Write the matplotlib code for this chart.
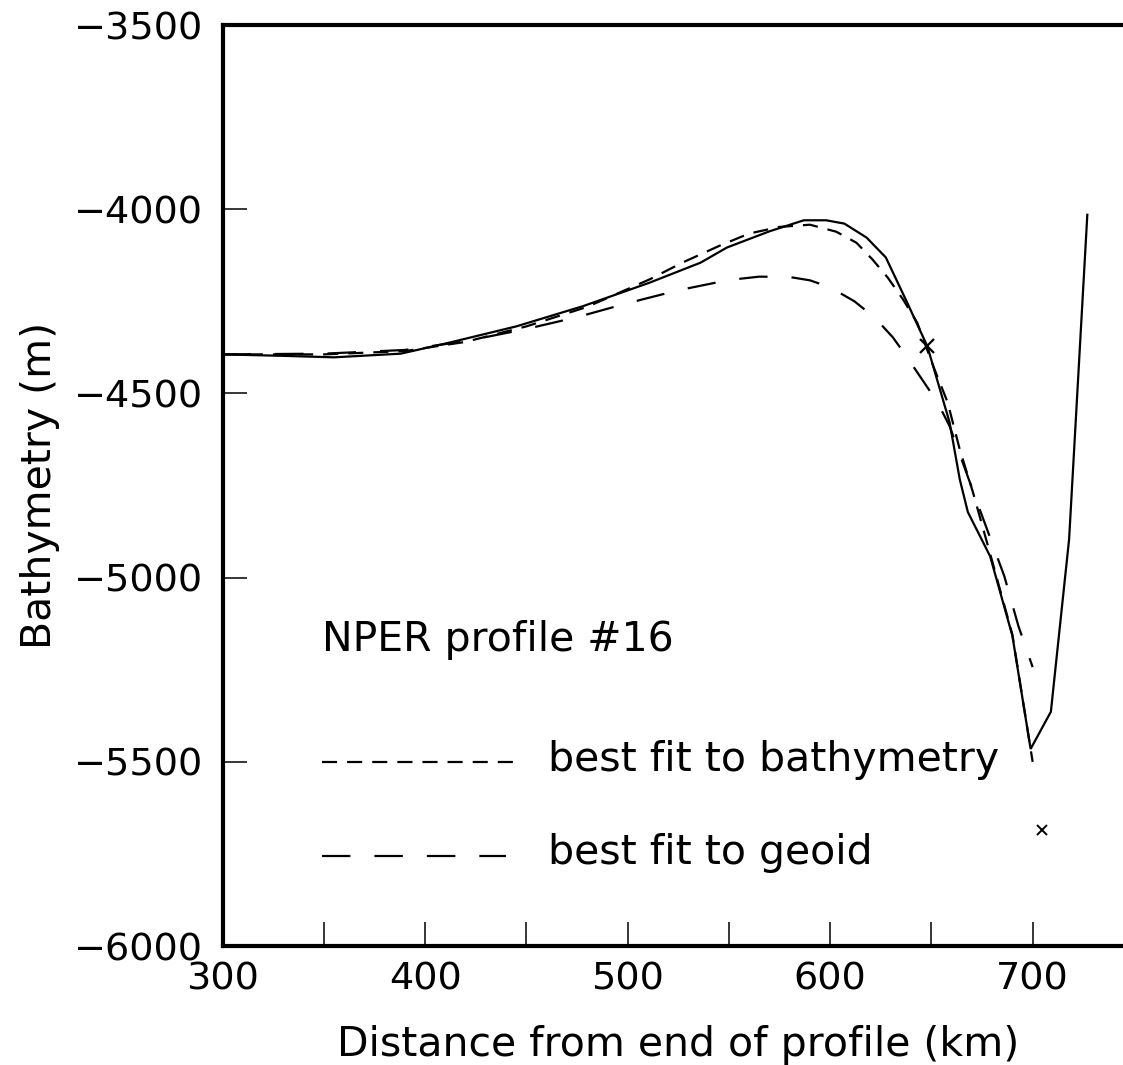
import matplotlib
matplotlib.use("Agg")
import matplotlib.pyplot as plt

# observed bathymetry profile (km, m)
obs_x = [300, 330, 355, 388, 412, 445, 478, 511, 536, 549, 570, 587, 598, 607,
         618, 627.5, 638, 648, 659, 664, 668, 679, 690, 699, 709, 718, 727]
obs_y = [-4394, -4398, -4402, -4392, -4362, -4318, -4263, -4199, -4145, -4104,
         -4060, -4030, -4030, -4039, -4077, -4131, -4253, -4372, -4579, -4733,
         -4822, -4942, -5158, -5465, -5364, -4896, -4015]

# best fit to bathymetry
bfit_x = [300, 350, 390, 420, 450, 480, 511, 527, 545, 560, 575, 590, 603, 613,
          621, 628.5, 636, 643, 651, 658, 664, 670.5, 679, 690, 700]
bfit_y = [-4394, -4394, -4385, -4360, -4318, -4265, -4190, -4145, -4100, -4066,
          -4048, -4042, -4061, -4091, -4137, -4186, -4245, -4308, -4427, -4524,
          -4652, -4768, -4935, -5155, -5500]

# best fit to geoid
gfit_x = [300, 350, 390, 420, 450, 475, 500, 525, 550, 565, 580, 590, 600, 612,
          622, 631, 638, 646, 653, 659, 672, 686, 693, 700]
gfit_y = [-4394, -4392, -4382, -4358, -4325, -4293, -4255, -4220, -4192, -4183,
          -4184, -4193, -4212, -4250, -4294, -4348, -4402, -4467, -4524, -4589,
          -4787, -4996, -5132, -5243]

# the two crosses
cross_big = (648, -4372)
cross_small = (704.5, -5684)

FS = 27.5      # tick labels
FS_TXT = 29.5  # axis labels and annotations
plt.rcParams['font.family'] = ['DejaVu Sans']

fig = plt.figure(figsize=(11.23, 10.65), dpi=100)
ax = fig.add_axes([0.1983, 0.1117, 0.8114, 0.8648])

lw = 1.6
ax.plot(obs_x, obs_y, color='black', lw=lw, solid_joinstyle='miter')
ax.plot(bfit_x, bfit_y, color='black', lw=lw, linestyle=(0, (6.8, 4.5)))
ax.plot(gfit_x, gfit_y, color='black', lw=lw, linestyle=(0, (12.8, 10.8)))
ax.plot(*cross_big, marker='x', ms=10, mew=1.6, color='black')
ax.plot(*cross_small, marker='x', ms=7, mew=1.4, color='black')

# annotation and hand-drawn key
ax.text(349, -5200, 'NPER profile #16', fontsize=FS_TXT, va='baseline', ha='left')
ax.plot([349, 446.4], [-5500, -5500], color='black', lw=lw, linestyle=(0, (6.8, 4.5)))
ax.text(460.7, -5524, 'best fit to bathymetry', fontsize=FS_TXT, va='baseline')
ax.plot([349, 440], [-5755, -5755], color='black', lw=lw, linestyle=(0, (12.8, 10.8)))
ax.text(460.7, -5776, 'best fit to geoid', fontsize=FS_TXT, va='baseline')

ax.set_xlim(300, 750)
ax.set_ylim(-6000, -3500)
ax.set_xticks([300, 400, 500, 600, 700])
ax.set_xticks([350, 450, 550, 650], minor=True)
ax.set_yticks([-6000, -5500, -5000, -4500, -4000, -3500])
ax.set_yticklabels(['\u22126000', '\u22125500', '\u22125000', '\u22124500',
                    '\u22124000', '\u22123500'])
ax.tick_params(which='both', direction='in', length=17, width=1.1,
               top=False, right=False, labelsize=FS)
ax.tick_params(axis='x', pad=11)
ax.tick_params(axis='y', pad=14)

for side in ['left', 'bottom', 'top']:
    ax.spines[side].set_linewidth(3)
ax.spines['right'].set_visible(False)

ax.set_xlabel('Distance from end of profile (km)', fontsize=FS_TXT, labelpad=20)
ax.set_ylabel('Bathymetry (m)', fontsize=FS_TXT, labelpad=10)

fig.savefig('out.png', dpi=100)
